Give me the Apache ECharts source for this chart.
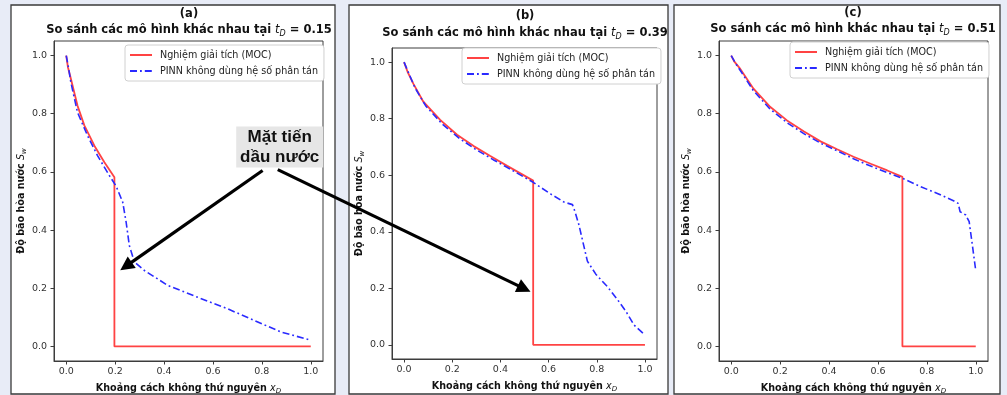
<!DOCTYPE html>
<html>
<head>
<meta charset="utf-8">
<script src="https://cdn.jsdelivr.net/npm/echarts@6/dist/echarts.min.js"></script>
<style>
  html, body { margin: 0; padding: 0; background: #e8ecf7; }
  #main { width: 1007px; height: 395px; }
</style>
</head>
<body>
<div id="main"></div>
<script>
// tick values shared by all three panels
const tickValues = [0, 0.2, 0.4, 0.6, 0.8, 1.0];
const panelLabels = ['(a)', '(b)', '(c)'];
const timeLabels = ['0.15', '0.39', '0.51'];
const seriesNames = ['Nghiệm giải tích (MOC)', 'PINN không dùng hệ số phân tán'];

// (a) t_D = 0.15
const mocA_x = [0, 0.007, 0.019, 0.046, 0.074, 0.115, 0.156, 0.197, 0.197, 1.0];
const mocA_y = [1.0, 0.96, 0.92, 0.828, 0.76, 0.69, 0.633, 0.582, 0, 0];
const pinnA_x = [0, 0.01, 0.019, 0.046, 0.087, 0.128, 0.176, 0.204, 0.231, 0.245, 0.258, 0.279, 0.32, 0.415, 0.538, 0.661, 0.77, 0.88, 0.99];
const pinnA_y = [1.0, 0.955, 0.908, 0.805, 0.725, 0.656, 0.588, 0.551, 0.496, 0.427, 0.347, 0.29, 0.261, 0.21, 0.169, 0.129, 0.089, 0.049, 0.024];

// (b) t_D = 0.39
const mocB_x = [0, 0.015, 0.039, 0.08, 0.15, 0.22, 0.289, 0.358, 0.428, 0.536, 0.536, 1.0];
const mocB_y = [1.0, 0.965, 0.923, 0.86, 0.796, 0.743, 0.703, 0.668, 0.633, 0.581, 0, 0];
const pinnB_x = [0, 0.008, 0.02, 0.045, 0.09, 0.16, 0.23, 0.3, 0.37, 0.44, 0.536, 0.608, 0.664, 0.699, 0.71, 0.726, 0.761, 0.796, 0.845, 0.886, 0.92, 0.955, 1.0];
const pinnB_y = [1.0, 0.995, 0.96, 0.91, 0.845, 0.78, 0.73, 0.69, 0.655, 0.622, 0.575, 0.534, 0.505, 0.496, 0.47, 0.424, 0.296, 0.25, 0.205, 0.16, 0.12, 0.07, 0.035];

// (c) t_D = 0.51
const mocC_x = [0, 0.012, 0.037, 0.091, 0.16, 0.228, 0.296, 0.365, 0.433, 0.5, 0.57, 0.638, 0.70, 0.70, 1.0];
const mocC_y = [1.0, 0.98, 0.954, 0.886, 0.823, 0.777, 0.74, 0.705, 0.678, 0.652, 0.628, 0.605, 0.583, 0, 0];
const pinnC_x = [0, 0.008, 0.02, 0.04, 0.09, 0.16, 0.23, 0.3, 0.37, 0.44, 0.5, 0.57, 0.64, 0.70, 0.775, 0.843, 0.911, 0.928, 0.936, 0.959, 0.973, 0.986, 1.0];
const pinnC_y = [1.0, 0.995, 0.97, 0.945, 0.88, 0.815, 0.768, 0.73, 0.697, 0.67, 0.645, 0.62, 0.597, 0.578, 0.549, 0.526, 0.50, 0.492, 0.463, 0.452, 0.429, 0.349, 0.26];

const mocX = [mocA_x, mocB_x, mocC_x];
const mocY = [mocA_y, mocB_y, mocC_y];
const pinnX = [pinnA_x, pinnB_x, pinnC_x];
const pinnY = [pinnA_y, pinnB_y, pinnC_y];

// annotation anchors in data units of panels (a) and (b)
const noteText = 'Mặt tiến\ndầu nước';
const noteCenterA = [0.873, 0.684];
const tailLeftA = [0.803, 0.605];
const tipLeftA = [0.221, 0.262];
const tailRightA = [0.865, 0.608];
const tipRightB = [0.525, 0.188];

const FONT = 'DejaVu Sans';
const RED = 'rgba(255, 20, 20, 0.8)';
const BLUE = '#2a2aff';

// layout (pixels)
const panels = [
  { x: 11, w: 324, grid: { left: 54, top: 41, width: 269, height: 320 }, cx: 189, t1: 14, t2: 30, leg: { left: 125, top: 45 } },
  { x: 349, w: 319, grid: { left: 392, top: 48, width: 265, height: 311 }, cx: 525, t1: 16, t2: 33, leg: { left: 462, top: 48 } },
  { x: 674, w: 326, grid: { left: 719, top: 41, width: 269, height: 320 }, cx: 853, t1: 13, t2: 29, leg: { left: 790, top: 42 } }
];

const pairs = (xs, ys) => xs.map((x, i) => [x, ys[i]]);

const chart = echarts.init(document.getElementById('main'));

const axisCommon = {
  type: 'value',
  min: -0.05,
  max: 1.05,
  splitLine: { show: false },
  axisLine: { show: true, onZero: false, lineStyle: { color: '#3c3c3c', width: 1 } },
  axisTick: { show: true, customValues: tickValues, length: 3.5, lineStyle: { color: '#3c3c3c' } },
  axisLabel: {
    customValues: tickValues,
    formatter: (v) => v.toFixed(1),
    fontFamily: FONT,
    fontSize: 9.5,
    color: '#333'
  }
};

const subRich = {
  b: { fontFamily: FONT, fontWeight: 'bold', fontSize: 9.6, color: '#111' },
  i: { fontFamily: FONT, fontStyle: 'italic', fontSize: 9.6, color: '#111' },
  s: { fontFamily: FONT, fontStyle: 'italic', fontSize: 7, color: '#111', padding: [6, 0, 0, 0] }
};

const option = {
  backgroundColor: '#e8ecf7',
  animation: false,
  grid: panels.map((p) => ({
    ...p.grid,
    outerBoundsMode: 'none',
    containLabel: false,
    show: true,
    backgroundColor: '#fff',
    borderColor: '#3c3c3c',
    borderWidth: 1
  })),
  xAxis: panels.map((p, i) => ({
    ...axisCommon,
    gridIndex: i,
    axisLabel: { ...axisCommon.axisLabel, margin: 6 },
    name: '{b|Khoảng cách không thứ nguyên }{i|x}{s|D}',
    nameLocation: 'middle',
    nameGap: 21,
    nameTextStyle: { rich: subRich }
  })),
  yAxis: panels.map((p, i) => ({
    ...axisCommon,
    gridIndex: i,
    axisLabel: { ...axisCommon.axisLabel, margin: 7 },
    name: '{b|Độ bão hòa nước }{i|S}{s|w}',
    nameLocation: 'middle',
    nameRotate: 90,
    nameGap: 26,
    nameTextStyle: { rich: subRich }
  })),
  legend: panels.map((p) => ({
    left: p.leg.left,
    top: p.leg.top,
    orient: 'vertical',
    data: seriesNames,
    itemWidth: 22,
    itemHeight: 8,
    itemGap: 6,
    padding: [5, 6, 5, 4],
    backgroundColor: '#fff',
    borderColor: '#d0d0d0',
    borderWidth: 1,
    borderRadius: 3,
    selectedMode: false,
    itemStyle: { opacity: 0 },
    textStyle: { fontFamily: FONT, fontSize: 9.6, color: '#222', padding: [0, 0, 0, 3] }
  })),
  series: []
};

panels.forEach((p, i) => {
  option.series.push({
    name: seriesNames[0],
    type: 'line',
    xAxisIndex: i,
    yAxisIndex: i,
    data: pairs(mocX[i], mocY[i]),
    symbol: 'none',
    z: 3,
    itemStyle: { color: RED },
    lineStyle: { color: RED, width: 1.8 }
  });
  option.series.push({
    name: seriesNames[1],
    type: 'line',
    xAxisIndex: i,
    yAxisIndex: i,
    data: pairs(pinnX[i], pinnY[i]),
    symbol: 'none',
    z: 4,
    itemStyle: { color: BLUE },
    lineStyle: { color: BLUE, width: 1.6, type: [7, 3, 1.8, 3] }
  });
});

chart.setOption(option);

// panel frames and titles, then the annotation placed from data coordinates
const graphics = [];
panels.forEach((p, i) => {
  graphics.push({
    type: 'rect',
    z: -10,
    shape: { x: p.x, y: 5, width: p.w, height: 389 },
    style: { fill: '#fff', stroke: '#3a3a3a', lineWidth: 1.3 }
  });
  graphics.push({
    type: 'text',
    z: 10,
    style: {
      text: panelLabels[i],
      x: p.cx, y: p.t1,
      align: 'center', verticalAlign: 'middle',
      font: 'bold 11.5px "DejaVu Sans"', fill: '#111'
    }
  });
  graphics.push({
    type: 'text',
    z: 10,
    style: {
      text: '{b|So sánh các mô hình khác nhau tại }{i|t}{s|D}{b| = ' + timeLabels[i] + '}',
      x: p.cx, y: p.t2,
      align: 'center', verticalAlign: 'middle',
      rich: {
        b: { fontFamily: FONT, fontWeight: 'bold', fontSize: 11.5, fill: '#111' },
        i: { fontFamily: FONT, fontStyle: 'italic', fontSize: 11.5, fill: '#111' },
        s: { fontFamily: FONT, fontStyle: 'italic', fontSize: 8, fill: '#111', padding: [7, 0, 0, 0] }
      }
    }
  });
});

const toPx = (gi, pt) => chart.convertToPixel({ gridIndex: gi }, pt);

function arrow(tail, tip) {
  const dx = tip[0] - tail[0];
  const dy = tip[1] - tail[1];
  const len = Math.sqrt(dx * dx + dy * dy);
  const ux = dx / len, uy = dy / len;
  const head = 14, half = 7;
  const bx = tip[0] - head * ux, by = tip[1] - head * uy;
  graphics.push({
    type: 'line',
    z: 100,
    shape: { x1: tail[0], y1: tail[1], x2: bx + 3 * ux, y2: by + 3 * uy },
    style: { stroke: '#000', lineWidth: 3.2 }
  });
  graphics.push({
    type: 'polygon',
    z: 100,
    shape: { points: [tip, [bx - half * uy, by + half * ux], [bx + half * uy, by - half * ux]] },
    style: { fill: '#000' }
  });
}

arrow(toPx(0, tailLeftA), toPx(0, tipLeftA));
arrow(toPx(0, tailRightA), toPx(1, tipRightB));

const nc = toPx(0, noteCenterA);
graphics.push({
  type: 'rect',
  z: 101,
  shape: { x: nc[0] - 43.5, y: nc[1] - 21, width: 87, height: 41 },
  style: { fill: '#e6e6e6' }
});
graphics.push({
  type: 'text',
  z: 102,
  style: {
    text: noteText,
    x: nc[0], y: nc[1],
    align: 'center', verticalAlign: 'middle',
    font: 'bold 17px "Liberation Sans"', fill: '#111', lineHeight: 20
  }
});

chart.setOption({ graphic: graphics });
</script>
</body>
</html>
